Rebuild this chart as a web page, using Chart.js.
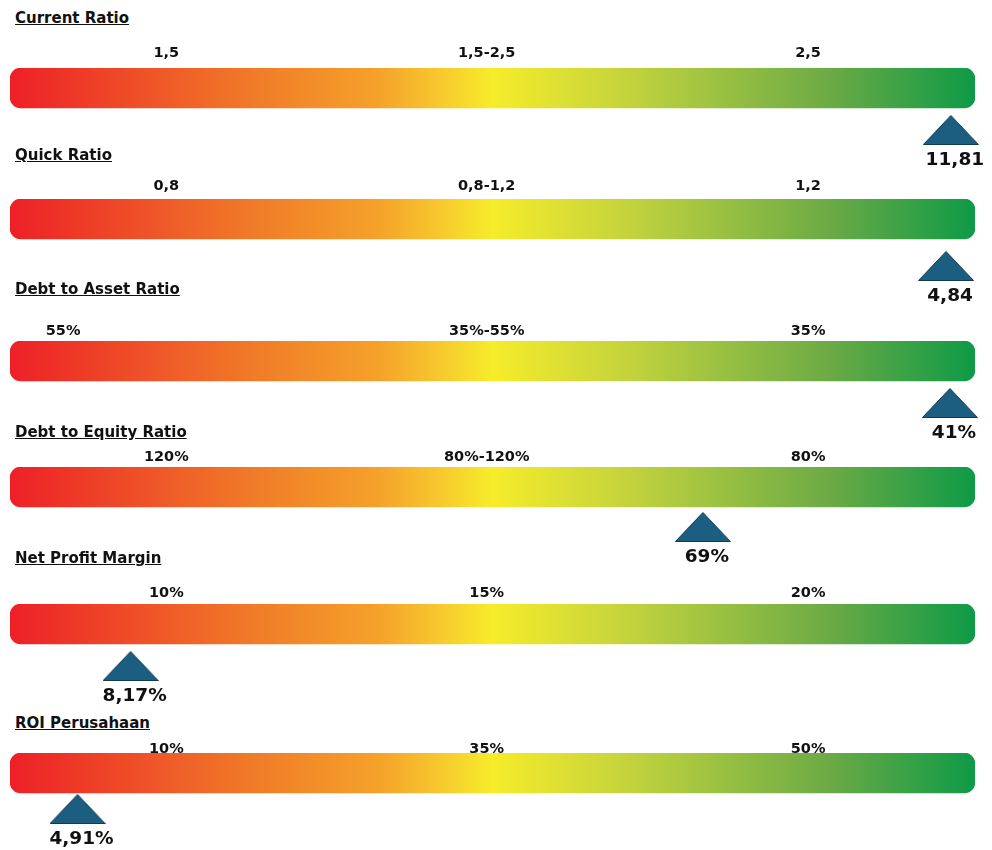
<!DOCTYPE html>
<html>
<head>
<meta charset="utf-8">
<script src="https://cdn.jsdelivr.net/npm/chart.js@4.4.1/dist/chart.umd.min.js"></script>
<style>
  body { margin: 0; background: #fff; width: 992px; height: 850px; position: relative; overflow: hidden; font-family: "DejaVu Sans", sans-serif; }
  .title { position: absolute; left: 15px; font-weight: bold; font-size: 15px; line-height: 18px; text-decoration: underline; color: #111; white-space: nowrap; }
  .row { position: absolute; left: 0; }
</style>
</head>
<body>
<script>
// Financial ratio gauges: one gradient bar per ratio, threshold labels on
// top and a triangle marking where the company sits on the scale.

const titles = ['Current Ratio', 'Quick Ratio', 'Debt to Asset Ratio',
                'Debt to Equity Ratio', 'Net Profit Margin', 'ROI Perusahaan'];

// threshold labels and where they sit along the bar (0-100)
const tickTexts = [
  ['1,5', '1,5-2,5', '2,5'],
  ['0,8', '0,8-1,2', '1,2'],
  ['55%', '35%-55%', '35%'],
  ['120%', '80%-120%', '80%'],
  ['10%', '15%', '20%'],
  ['10%', '35%', '50%']
];
const tickPositions = [
  [16.2, 49.4, 82.7],
  [16.2, 49.4, 82.7],
  [5.5, 49.4, 82.7],
  [16.2, 49.4, 82.7],
  [16.2, 49.4, 82.7],
  [16.2, 49.4, 82.7]
];

// marker position along the bar (0-100) and its value text
const markerPositions = [97.5, 97.0, 97.4, 71.8, 12.5, 7.0];
const valueLabels = ['11,81', '4,84', '41%', '69%', '8,17%', '4,91%'];

// page layout (pixels)
const titleCenters = [18, 155, 289, 432, 558, 723];
const barTops = [68, 199, 341, 467, 604, 753];
const labelGaps = [15, 13, 10, 10, 11, 4];
const markerGaps = [7, 12, 7, 5, 7, 1];

const AXIS_H = 30;
const CANVAS_H = 140;
const BAR_H = 40;
const TRI_W = 56, TRI_H = 30;

const gradientStops = [
  [0, '#ED2027'], [0.25, '#F07A28'], [0.38, '#F5A12A'], [0.44, '#F7C52E'],
  [0.5, '#F6EC2A'], [0.64, '#C4D33C'], [0.73, '#9DC242'], [0.85, '#6BAA45'], [1, '#0E9A47']
];

function makeTriangle() {
  const c = document.createElement('canvas');
  c.width = TRI_W; c.height = TRI_H;
  const g = c.getContext('2d');
  g.beginPath();
  g.moveTo(TRI_W / 2, 0.5);
  g.lineTo(TRI_W - 0.5, TRI_H - 0.5);
  g.lineTo(0.5, TRI_H - 0.5);
  g.closePath();
  g.fillStyle = '#1B5E80';
  g.fill();
  g.strokeStyle = '#123A52';
  g.lineWidth = 1;
  g.stroke();
  return c;
}
const triangle = makeTriangle();

// value text under the marker
const valueLabelPlugin = {
  id: 'valueLabel',
  afterDatasetsDraw(chart, args, opts) {
    const pt = chart.getDatasetMeta(1).data[0];
    if (!pt) return;
    const ctx = chart.ctx;
    ctx.save();
    ctx.font = 'bold 18.5px "DejaVu Sans"';
    ctx.fillStyle = '#111';
    ctx.textAlign = 'center';
    ctx.textBaseline = 'middle';
    ctx.fillText(opts.text, pt.x + 4, pt.y + TRI_H / 2 + 15);
    ctx.restore();
  }
};

function barGradient(context) {
  const chart = context.chart;
  const area = chart.chartArea;
  if (!area) return '#F5A12A';
  const g = chart.ctx.createLinearGradient(area.left, 0, area.right, 0);
  gradientStops.forEach(s => g.addColorStop(s[0], s[1]));
  return g;
}

titles.forEach((title, i) => {
  const t = document.createElement('div');
  t.className = 'title';
  t.style.top = (titleCenters[i] - 9) + 'px';
  t.textContent = title;
  document.body.appendChild(t);

  const wrap = document.createElement('div');
  wrap.className = 'row';
  wrap.style.top = (barTops[i] - AXIS_H) + 'px';
  const canvas = document.createElement('canvas');
  canvas.width = 992;
  canvas.height = CANVAS_H;
  wrap.appendChild(canvas);
  document.body.appendChild(wrap);

  const lineH = 14.5 * 1.2;

  new Chart(canvas.getContext('2d'), {
    type: 'bar',
    data: {
      datasets: [
        {
          type: 'bar',
          indexAxis: 'y',
          data: [{ x: [0, 100], y: BAR_H / 2 }],
          backgroundColor: barGradient,
          borderWidth: 0,
          borderRadius: 11,
          borderSkipped: false,
          barThickness: BAR_H
        },
        {
          type: 'scatter',
          data: [{ x: markerPositions[i], y: BAR_H + markerGaps[i] + TRI_H / 2 }],
          pointStyle: triangle,
          pointRadius: 15,
          pointHoverRadius: 15,
          clip: false
        }
      ]
    },
    options: {
      responsive: false,
      animation: false,
      events: [],
      layout: { autoPadding: false, padding: { left: 10, right: 17, top: 0, bottom: 0 } },
      plugins: {
        legend: { display: false },
        tooltip: { enabled: false },
        valueLabel: { text: valueLabels[i] }
      },
      scales: {
        x: {
          type: 'linear',
          position: 'top',
          offset: false,
          min: 0,
          max: 100,
          grid: { display: false, drawTicks: false, offset: false },
          border: { display: false },
          afterFit: s => {
            s.height = AXIS_H;
            s.paddingLeft = 0;
            s.paddingRight = 0;
          },
          afterBuildTicks: s => { s.ticks = tickPositions[i].map(v => ({ value: v })); },
          ticks: {
            autoSkip: false,
            maxRotation: 0,
            padding: labelGaps[i] - lineH / 2,
            color: '#111',
            font: { family: 'DejaVu Sans', size: 14.5, weight: 'bold' },
            callback: (value, index) => tickTexts[i][index]
          }
        },
        y: {
          type: 'linear',
          display: false,
          reverse: true,
          offset: false,
          min: 0,
          max: CANVAS_H - AXIS_H
        }
      }
    },
    plugins: [valueLabelPlugin]
  });
});
</script>
</body>
</html>
